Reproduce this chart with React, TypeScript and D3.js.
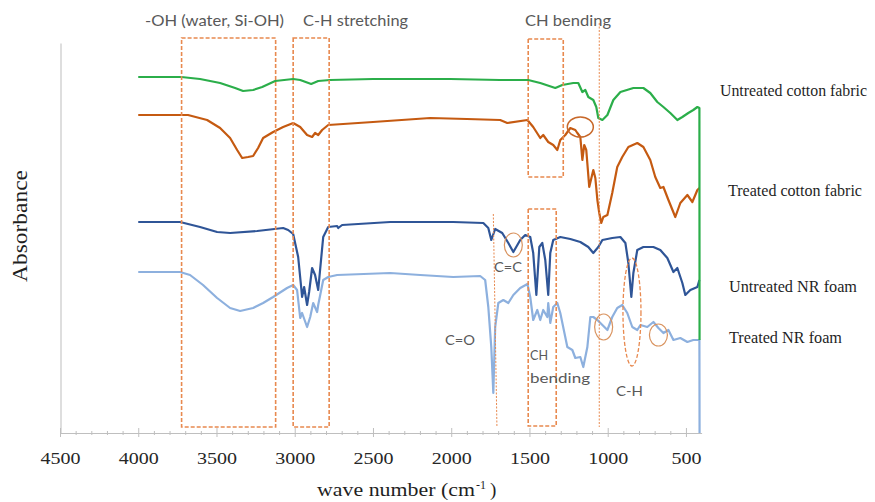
import React, { useEffect, useRef } from 'react';
import * as d3 from 'd3';

// FTIR spectra, [wave number cm-1, absorbance (a.u., stacked offset)]
const untreatedCotton: [number, number][] = [
  [4000, 356], [3725, 356], [3605, 354], [3477, 350], [3381, 345], [3330, 342], [3266, 343], [3208, 346],
  [3125, 352], [3010, 354], [2965, 353], [2895, 349], [2850, 352], [2774, 353], [2500, 354], [2326, 354],
  [2006, 354], [1687, 353], [1508, 353], [1431, 350], [1335, 345], [1290, 348], [1220, 350], [1188, 350],
  [1162, 341], [1143, 343], [1124, 336], [1092, 333], [1073, 326], [1060, 315], [1034, 313], [1002, 318],
  [964, 333], [919, 341], [836, 345], [772, 345], [728, 340], [683, 331], [644, 326], [600, 320],
  [555, 313], [523, 316], [485, 320], [453, 323], [427, 326], [414, 325], [413, 93],
];

const treatedCotton: [number, number][] = [
  [4000, 318], [3682, 318], [3560, 313], [3477, 305], [3413, 295], [3368, 283], [3336, 275], [3298, 276],
  [3266, 277], [3234, 285], [3202, 295], [3138, 301], [3074, 306], [3010, 310], [2965, 306], [2921, 298],
  [2889, 296], [2870, 300], [2850, 298], [2825, 303], [2786, 308], [2500, 311], [2134, 315], [1900, 314],
  [1687, 313], [1642, 310], [1513, 313], [1476, 306], [1431, 295], [1412, 298], [1380, 291], [1348, 288],
  [1322, 283], [1303, 293], [1271, 298], [1239, 305], [1207, 303], [1194, 300], [1175, 296], [1162, 273],
  [1150, 288], [1137, 283], [1118, 246], [1092, 263], [1079, 255], [1066, 233], [1054, 220], [1041, 210],
  [1028, 216], [1002, 218], [971, 240], [939, 266], [907, 276], [868, 286], [811, 290], [772, 286],
  [728, 273], [696, 256], [664, 245], [644, 246], [612, 233], [568, 216], [536, 230], [491, 238],
  [459, 231], [427, 243], [414, 245],
];

const untreatedFoam: [number, number][] = [
  [4000, 211], [3733, 211], [3605, 206], [3496, 201], [3413, 200], [3240, 202], [3074, 205], [3042, 203],
  [3010, 199], [2978, 176], [2959, 146], [2953, 136], [2940, 146], [2921, 128], [2908, 141], [2889, 165],
  [2870, 158], [2850, 143], [2838, 163], [2818, 196], [2786, 206], [2729, 207], [2722, 205], [2697, 208],
  [2390, 211], [2198, 211], [1987, 211], [1795, 210], [1763, 205], [1744, 193], [1719, 204], [1674, 200],
  [1635, 190], [1603, 181], [1559, 193], [1527, 198], [1495, 196], [1476, 180], [1456, 138], [1437, 186],
  [1418, 190], [1399, 173], [1380, 138], [1367, 180], [1348, 193], [1303, 196], [1239, 194], [1175, 191],
  [1124, 186], [1092, 180], [1060, 186], [1034, 193], [971, 195], [919, 196], [887, 190], [868, 170],
  [849, 136], [836, 160], [811, 183], [772, 186], [708, 186], [664, 183], [619, 175], [580, 161],
  [555, 165], [523, 150], [504, 138], [472, 143], [427, 146], [414, 153],
];

const treatedFoam: [number, number][] = [
  [4000, 161], [3733, 161], [3669, 158], [3586, 148], [3496, 135], [3413, 125], [3349, 122], [3266, 125],
  [3202, 130], [3138, 136], [3049, 145], [3010, 148], [2985, 143], [2965, 115], [2953, 120], [2921, 106],
  [2901, 116], [2882, 130], [2857, 121], [2850, 128], [2818, 153], [2786, 156], [2729, 158], [2390, 160],
  [2198, 158], [1987, 156], [1815, 157], [1783, 153], [1763, 126], [1744, 86], [1731, 40], [1719, 106],
  [1699, 130], [1667, 133], [1635, 130], [1603, 138], [1559, 145], [1513, 149], [1495, 136], [1476, 113],
  [1450, 123], [1431, 113], [1412, 123], [1386, 116], [1380, 130], [1367, 110], [1348, 126], [1322, 130],
  [1303, 120], [1258, 86], [1226, 83], [1207, 75], [1175, 76], [1156, 66], [1130, 86], [1111, 116],
  [1092, 116], [1066, 113], [1034, 108], [1002, 103], [971, 116], [939, 125], [907, 128], [875, 120],
  [843, 106], [811, 103], [791, 108], [747, 106], [708, 111], [676, 105], [644, 100], [612, 103],
  [580, 93], [536, 95], [491, 91], [453, 93], [414, 93], [413, 0],
];

const seriesNames = ['Untreated cotton fabric', 'Treated cotton fabric', 'Untreated NR foam', 'Treated NR foam'];
const seriesColors = ['#2BAE4A', '#C55A11', '#2F5597', '#8DB0DE'];
const majorTicks = [4500, 4000, 3500, 3000, 2500, 2000, 1500, 1000, 500];
const minorTicks = d3.range(4400, 499, -100).filter(d => d % 500 !== 0);

const W = 875;
const H = 502;
const box = '#E8894F';
const note = '#595959';
const serif = '"Liberation Serif", "Times New Roman", serif';
const sans = 'Lato, "Open Sans", sans-serif';

const App = () => {
  const xAxisRef = useRef<SVGGElement>(null);
  const yAxisRef = useRef<SVGGElement>(null);

  const x = d3.scaleLinear().domain([4500, 400]).range([60, 701.6]);
  const y = d3.scaleLinear().domain([0, 390]).range([433, 43]);
  const line = d3.line<[number, number]>().x(d => x(d[0])).y(d => y(d[1]));

  useEffect(() => {
    const gx = d3.select(xAxisRef.current);
    gx.selectAll('*').remove();
    gx.append('g').attr('class', 'minor')
      .call(d3.axisBottom(x).tickValues(minorTicks).tickSizeOuter(0).tickFormat(() => ''));
    gx.append('g').attr('class', 'major')
      .call(d3.axisBottom(x).tickValues(majorTicks).tickSizeOuter(0).tickFormat(d3.format('d')));
    gx.selectAll('g').attr('font-family', serif).attr('font-size', 17);
    gx.selectAll('.domain').attr('stroke', '#BFBFBF').attr('stroke-width', 1.2);
    gx.select('.minor .domain').remove();
    gx.selectAll('.minor .tick line').attr('y1', -2).attr('y2', 2).attr('stroke', '#BFBFBF');
    gx.selectAll('.major .tick line').attr('y1', -5).attr('y2', 4).attr('stroke', '#BFBFBF');
    gx.selectAll('.major .tick text')
      .attr('y', 31).attr('dy', 0)
      .style('font-family', serif)
      .style('font-size', '17px')
      .attr('fill', '#262626')
      .attr('textLength', (d: any) => String(d).length * 10)
      .attr('lengthAdjust', 'spacingAndGlyphs');

    const gy = d3.select(yAxisRef.current);
    gy.selectAll('*').remove();
    gy.call(d3.axisLeft(y).tickValues([]).tickSizeOuter(0));
    gy.select('.domain').attr('stroke', '#C8C8C8').attr('stroke-width', 1.2);
  }, []);

  const series = [treatedFoam, untreatedFoam, treatedCotton, untreatedCotton];
  const colorsDraw = [seriesColors[3], seriesColors[2], seriesColors[1], seriesColors[0]];

  return (
    <svg width={W} height={H} style={{ position: 'absolute', left: 0, top: 0, background: '#fff' }}>
      <g ref={yAxisRef} transform="translate(60.5,0)" />
      <g ref={xAxisRef} transform="translate(0,433)" />

      {series.map((s, i) => (
        <path key={i} d={line(s) || ''} fill="none" stroke={colorsDraw[i]} strokeWidth={2.2}
          strokeLinejoin="round" />
      ))}

      {/* dashed assignment boxes */}
      <g fill="none" stroke={box} strokeWidth={1.6} strokeDasharray="4 2">
        <rect x={x(3723)} y={38} width={x(3122) - x(3723)} height={389} />
        <rect x={x(3010)} y={38} width={x(2780) - x(3010)} height={389} />
        <rect x={x(1508)} y={39} width={x(1284) - x(1508)} height={138} />
        <rect x={x(1508)} y={209} width={x(1329) - x(1508)} height={217} />
        <ellipse cx={x(845)} cy={312} rx={9} ry={54} strokeWidth={1.3} />
      </g>
      <g fill="none" stroke={box} strokeWidth={1} strokeDasharray="2 1.5">
        <line x1={x(1054)} x2={x(1054)} y1={23} y2={427} />
        <line x1={x(1731)} x2={x(1708)} y1={214} y2={426} />
      </g>
      <g fill="none" stroke="#D9935F" strokeWidth={1.2}>
        <ellipse cx={x(1603)} cy={245} rx={9} ry={12} />
        <ellipse cx={x(1026)} cy={327} rx={9} ry={13} />
        <ellipse cx={x(676)} cy={335} rx={9} ry={11} />
      </g>
      <ellipse cx={x(1175)} cy={127} rx={13} ry={10} fill="none" stroke="#C8682A" strokeWidth={1.5} />

      {/* annotation text */}
      <g fontFamily={sans} fontSize={15} fill={note}>
        <text x={145} y={26} textLength={139} lengthAdjust="spacingAndGlyphs">-OH (water, Si-OH)</text>
        <text x={303} y={26} textLength={105} lengthAdjust="spacingAndGlyphs">C-H stretching</text>
        <text x={525} y={26} textLength={86} lengthAdjust="spacingAndGlyphs">CH bending</text>
        <text x={494} y={272} fontSize={14} textLength={28} lengthAdjust="spacingAndGlyphs">C=C</text>
        <text x={445} y={345} fontSize={14} textLength={30} lengthAdjust="spacingAndGlyphs">C=O</text>
        <text x={530} y={360} fontSize={14} textLength={18} lengthAdjust="spacingAndGlyphs">CH</text>
        <text x={530} y={383} fontSize={14} textLength={60} lengthAdjust="spacingAndGlyphs">bending</text>
        <text x={616} y={396} fontSize={14} textLength={27} lengthAdjust="spacingAndGlyphs">C-H</text>
      </g>

      {/* series labels */}
      <g fontFamily={serif} fontSize={17} fill="#1F1F1F">
        <text x={720} y={96} fontSize={16} textLength={147} lengthAdjust="spacingAndGlyphs">{seriesNames[0]}</text>
        <text x={728} y={196} textLength={134} lengthAdjust="spacingAndGlyphs">{seriesNames[1]}</text>
        <text x={729} y={292} textLength={128} lengthAdjust="spacingAndGlyphs">{seriesNames[2]}</text>
        <text x={729} y={343} textLength={113} lengthAdjust="spacingAndGlyphs">{seriesNames[3]}</text>
      </g>

      {/* axis titles */}
      <text transform="translate(27,226) rotate(-90)" textAnchor="middle" fontFamily={serif} fontSize={20}
        fill="#1F1F1F" textLength={112} lengthAdjust="spacingAndGlyphs">Absorbance</text>
      <g fontFamily={serif} fill="#1F1F1F">
        <text x={317} y={496} fontSize={19} textLength={158} lengthAdjust="spacingAndGlyphs">wave number (cm</text>
        <text x={476} y={489} fontSize={12}>-1</text>
        <text x={490} y={496} fontSize={19}>)</text>
      </g>
    </svg>
  );
};

export default App;
